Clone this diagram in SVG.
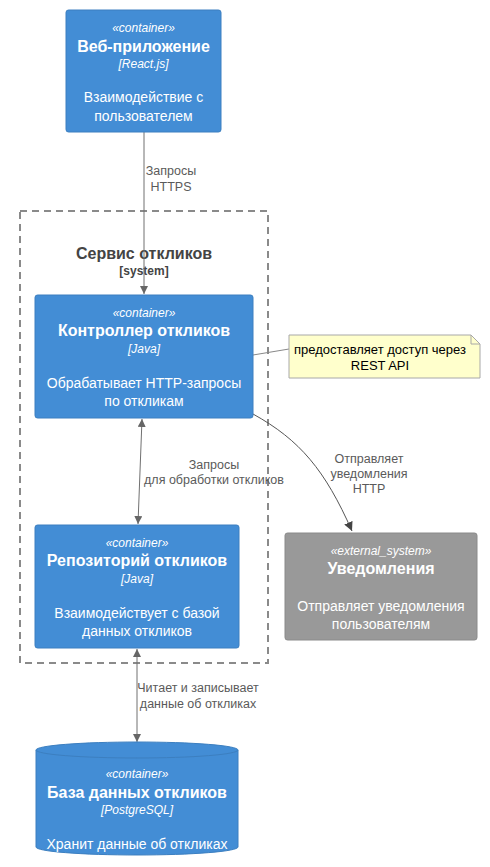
<svg xmlns="http://www.w3.org/2000/svg" width="490" height="867" viewBox="0 0 490 867">
<defs>
<style>
text{font-family:"Liberation Sans",Arial,sans-serif;}
.box{fill:#438DD5;stroke:#3C7FC0;stroke-width:1;}
.ext{fill:#999999;stroke:#8A8A8A;stroke-width:1;}
.st{font-size:12px;font-style:italic;fill:#fff;text-anchor:middle;}
.tt{font-size:16px;font-weight:bold;fill:#fff;text-anchor:middle;}
.ds{font-size:14px;fill:#fff;text-anchor:middle;}
.lb{font-size:12.5px;fill:#5a5a5a;text-anchor:middle;}
.ln{stroke:#707070;stroke-width:1;fill:none;}
</style>
<marker id="ah" viewBox="0 0 10 10" refX="10" refY="5" markerWidth="8" markerHeight="8" orient="auto-start-reverse" markerUnits="userSpaceOnUse"><path d="M0,0 L10,5 L0,10 z" fill="#666"/></marker>
<marker id="ah2" viewBox="0 0 10 10" refX="10" refY="5" markerWidth="9" markerHeight="9" orient="auto" markerUnits="userSpaceOnUse"><path d="M0,0 L10,5 L0,10 z" fill="#444"/></marker>
</defs>

<g id="boundary">
<rect x="20" y="211" width="248" height="452" fill="none" stroke="#8A8A8A" stroke-width="2" stroke-dasharray="7,5"/>
<text x="144" y="259" text-anchor="middle" font-size="16" font-weight="bold" fill="#444">Сервис откликов</text>
<text x="144" y="275" text-anchor="middle" font-size="12" font-weight="bold" fill="#444">[system]</text>
</g>

<g id="connectors">
<line class="ln" x1="144" y1="132" x2="144" y2="294" marker-end="url(#ah)"/>
<text class="lb" x="171" y="175">Запросы</text>
<text class="lb" x="171" y="191">HTTPS</text>

<line class="ln" x1="142" y1="419" x2="138" y2="524" marker-start="url(#ah)" marker-end="url(#ah)"/>
<text class="lb" x="214" y="469">Запросы</text>
<text class="lb" x="214" y="484">для обработки откликов</text>

<line class="ln" x1="137" y1="649" x2="137" y2="742" marker-start="url(#ah)" marker-end="url(#ah)"/>
<text class="lb" x="198" y="692">Читает и записывает</text>
<text class="lb" x="198" y="708">данные об откликах</text>

<path d="M253,414 C300,440 325,470 352,531" fill="none" stroke="#555" stroke-width="1" marker-end="url(#ah2)"/>
<text class="lb" x="369" y="463">Отправляет</text>
<text class="lb" x="369" y="478">уведомления</text>
<text class="lb" x="369" y="493">HTTP</text>

<line x1="253" y1="355" x2="289" y2="349" stroke="#888" stroke-width="1"/>
</g>

<g id="web-app">
<rect class="box" x="66" y="10" width="155" height="122" rx="2.5"/>
<text class="st" x="143.5" y="32">«container»</text>
<text class="tt" x="143.5" y="52">Веб-приложение</text>
<text class="st" x="143.5" y="68">[React.js]</text>
<text class="ds" x="143.5" y="102">Взаимодействие с</text>
<text class="ds" x="143.5" y="121">пользователем</text>
</g>

<g id="controller">
<rect class="box" x="35" y="295" width="218" height="123" rx="2.5"/>
<text class="st" x="144" y="317">«container»</text>
<text class="tt" x="144" y="336">Контроллер откликов</text>
<text class="st" x="144" y="353">[Java]</text>
<text class="ds" x="144" y="388">Обрабатывает HTTP-запросы</text>
<text class="ds" x="144" y="406">по откликам</text>
</g>

<g id="note">
<path d="M289,335 L471,335 L480,344 L480,378 L289,378 Z" fill="#FFFFCC" stroke="#A8A8A8" stroke-width="1"/>
<path d="M471,335 L471,344 L480,344" fill="none" stroke="#A8A8A8" stroke-width="1"/>
<text x="380" y="354" text-anchor="middle" font-size="13" fill="#000">предоставляет доступ через</text>
<text x="380" y="370" text-anchor="middle" font-size="13" fill="#000">REST API</text>
</g>

<g id="repository">
<rect class="box" x="35" y="525" width="204" height="123" rx="2.5"/>
<text class="st" x="137" y="547">«container»</text>
<text class="tt" x="137" y="566">Репозиторий откликов</text>
<text class="st" x="137" y="583">[Java]</text>
<text class="ds" x="137" y="618">Взаимодействует с базой</text>
<text class="ds" x="137" y="636">данных откликов</text>
</g>

<g id="notifications">
<rect class="ext" x="285" y="533" width="192" height="107" rx="2.5"/>
<text class="st" x="381" y="555">«external_system»</text>
<text class="tt" x="381" y="574">Уведомления</text>
<text class="ds" x="381" y="611">Отправляет уведомления</text>
<text class="ds" x="381" y="629">пользователям</text>
</g>

<g id="database">
<path class="box" d="M36,750 A101,8 0 0 1 238,750 L238,847 A101,8 0 0 1 36,847 Z"/>
<path d="M36,750 A101,8 0 0 0 238,750" fill="none" stroke="#3C7FC0" stroke-width="1"/>
<text class="st" x="137" y="778">«container»</text>
<text class="tt" x="137" y="798">База данных откликов</text>
<text class="st" x="137" y="814">[PostgreSQL]</text>
<text class="ds" x="137" y="849">Хранит данные об откликах</text>
</g>
</svg>
